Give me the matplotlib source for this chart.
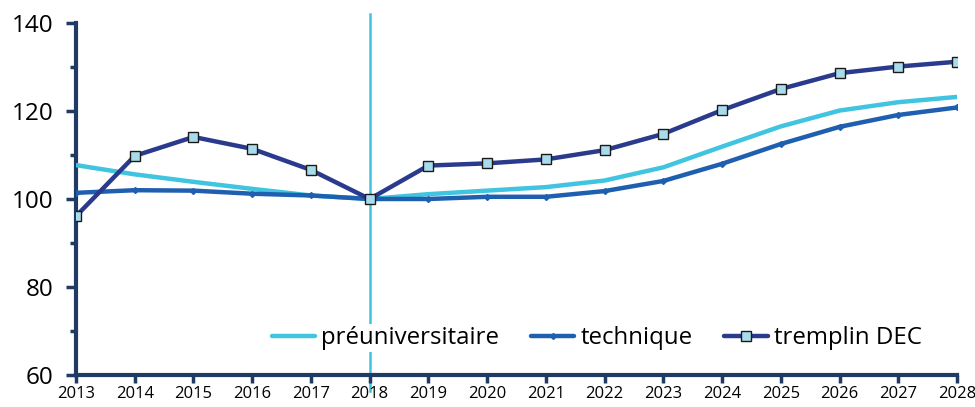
import matplotlib
matplotlib.use("Agg")
import matplotlib.pyplot as plt
from matplotlib.ticker import MultipleLocator

plt.rcParams['font.family'] = ['Open Sans', 'DejaVu Sans']

years = list(range(2013, 2029))
preuniversitaire = [107.7, 105.6, 103.9, 102.3, 100.8, 100.0, 101.1, 101.9, 102.7, 104.2,
                    107.2, 111.9, 116.5, 120.1, 122.0, 123.2]
technique = [101.4, 102.0, 101.9, 101.2, 100.8, 100.0, 100.0, 100.5, 100.5, 101.8,
             104.1, 108.0, 112.5, 116.4, 119.1, 120.8]
tremplin = [96.1, 109.8, 114.1, 111.4, 106.6, 100.0, 107.6, 108.1, 109.0, 111.1,
            114.8, 120.2, 125.0, 128.6, 130.1, 131.2]
labels = ['préuniversitaire', 'technique', 'tremplin DEC']
ref_year = 2018

axis_col = '#1F3A63'
fig = plt.figure(figsize=(9.75, 4.07), dpi=100)
ax = fig.add_axes([76/975, 1-375/407, (957-76)/975, (375-23)/407])

ax.axvline(ref_year, ymin=-0.045, ymax=1.025, color='#40C4DF', lw=1.8, clip_on=False, zorder=1)
ax.plot(years, preuniversitaire, color='#40C4DF', lw=3.2, label=labels[0], zorder=3,
        solid_capstyle='round')
ax.plot(years, technique, color='#1F5FAF', lw=3.2, marker='D', ms=3, label=labels[1], zorder=4,
        solid_capstyle='round')
ax.plot(years, tremplin, color='#2A3A8C', lw=3.2, marker='s', ms=6.5, mfc='#A8DCEA', mec='#1a1a1a',
        mew=1.0, label=labels[2], zorder=5, solid_capstyle='round')

ax.set_xlim(2013, 2028)
ax.set_ylim(60, 140)
ax.set_xticks(years)
ax.set_xticklabels([str(y) for y in years], fontsize=12)
ax.yaxis.set_major_locator(MultipleLocator(20))
ax.yaxis.set_minor_locator(MultipleLocator(10))
ax.tick_params(axis='y', which='major', labelsize=17.5, length=7, width=2.5, color=axis_col, pad=9)
ax.tick_params(axis='y', which='minor', length=4, width=2.5, color=axis_col)
ax.tick_params(axis='x', which='major', length=6, width=2.5, color=axis_col, pad=2)
for s in ['top', 'right']:
    ax.spines[s].set_visible(False)
for s in ['left', 'bottom']:
    ax.spines[s].set_color(axis_col)
    ax.spines[s].set_linewidth(3)

leg = ax.legend(loc='lower right', bbox_to_anchor=(0.976, 0.03), ncol=3, frameon=True,
                fontsize=17.3, handlelength=1.8, handletextpad=0.25, columnspacing=1.33,
                borderpad=0.1, edgecolor='none', facecolor='white', framealpha=1)

fig.savefig('out.png', dpi=100)
